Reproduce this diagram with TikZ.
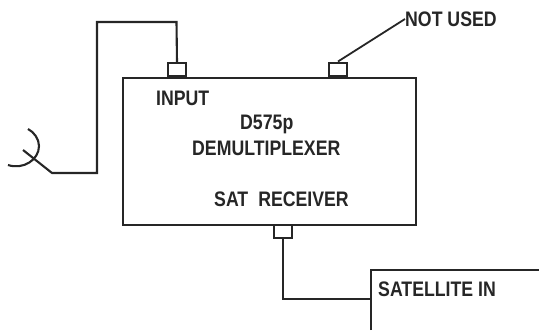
\documentclass[tikz,border=0pt]{standalone}
\usepackage{fontspec}
\setmainfont[FakeStretch=0.843,BoldFont={Liberation Sans Bold}]{Liberation Sans}
\tikzset{
  wire/.style={draw=black!85,line width=2.1pt,line join=miter},
  port/.style={draw=black!85,line width=2pt,minimum width=17.5pt,minimum height=13pt,inner sep=0pt},
  label/.style={anchor=base west,inner sep=0pt,text=black!85,font=\fontsize{21}{23}\selectfont\bfseries},
}
\begin{document}
\begin{tikzpicture}[x=1pt,y=-1pt]
\useasboundingbox (0,0) rectangle (539,330);
\draw[wire] (371,330) |- (539,270);
\coordinate (satedge) at (371,299);
\node[port] (pin) at (177,69.5) {};
\node[port] (pnu) at (338,69) {};
\node[port] (psat) at (283,231) {};
\node[draw=black!85,line width=2.1pt,minimum width=293pt,minimum height=147pt,inner sep=0pt,anchor=north west] (demux) at (122,77) {};
\coordinate (ant) at (52,173);
\coordinate (antend) at (23,150);
\coordinate (nu) at (405,19);
\draw[wire] (pin.north) -- (176.5,22) -- (97,22) -- (97,173) -- (ant) -- (antend);
\draw[wire] (8,165) .. controls (23,170) and (39,160) .. (39,146) .. controls (39,139) and (34,132) .. (28,129);
\draw[wire,line width=1.8pt] (pnu.north) -- (nu);
\draw[wire] (psat.south) |- (satedge);
\node[label] (tinput) at (156,105) {INPUT};
\node[label] (tmodel) at (240,129) {D575p};
\node[label] (tdemux) at (192,155) {DEMULTIPLEXER};
\node[label] (tsat) at (214,206) {SAT\hspace{10pt}RECEIVER};
\node[label] (tnu) at (405,26) {NOT USED};
\node[label] (tsi) at (378,296) {SATELLITE IN};
\end{tikzpicture}
\end{document}
